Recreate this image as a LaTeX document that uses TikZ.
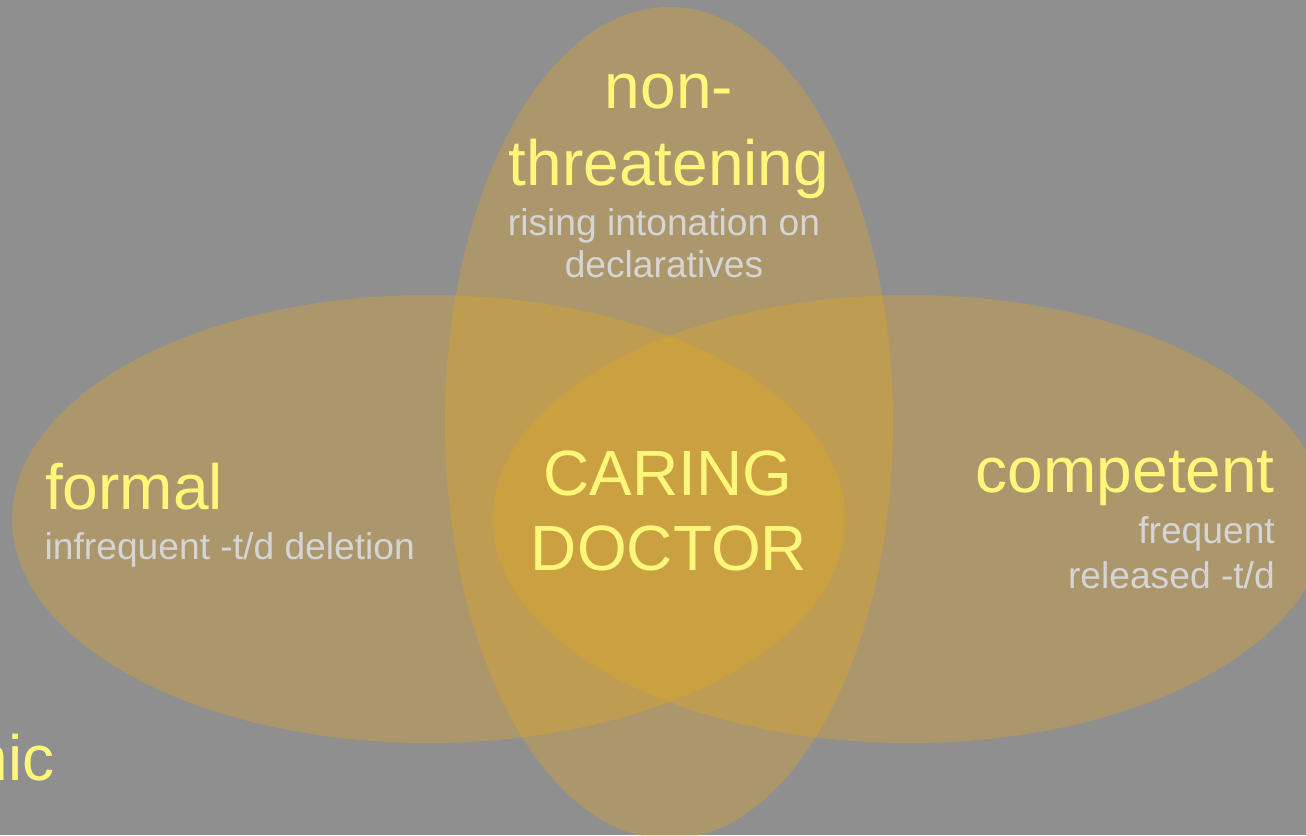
\documentclass[tikz,border=0pt]{standalone}
\usepackage{fontspec}
\setmainfont{Liberation Sans}
\definecolor{bggray}{RGB}{143,143,143}
\definecolor{blobfill}{RGB}{236,170,26}
\definecolor{titleyellow}{RGB}{255,247,122}
\definecolor{notegray}{RGB}{213,213,213}
\tikzset{
  blob/.style={fill=blobfill, fill opacity=0.3},
  bigtext/.style={text=titleyellow, inner sep=0pt, font=\fontsize{64}{75}\selectfont},
  smalltext/.style={text=notegray, inner sep=0pt, font=\fontsize{37.2}{42}\selectfont},
}
\begin{document}
\begin{tikzpicture}[x=1pt,y=-1pt]
\useasboundingbox (0,0) rectangle (1306,835);
\clip (0,0) rectangle (1306,835);
\fill[bggray] (0,0) rectangle (1306,835);
% ellipses
\fill[blob] (428.6,519) ellipse [x radius=416.6pt, y radius=224pt];
\fill[blob] (909.4,519) ellipse [x radius=416.6pt, y radius=224pt];
\fill[blob] (669,423) ellipse [x radius=224pt, y radius=416pt];
% top
\node[bigtext, anchor=base] (non) at (669,108) {non-};
\node[bigtext, anchor=base] (threat) at (669,185) {threatening};
\node[smalltext, anchor=base] (rising) at (664,235) {rising intonation on};
\node[smalltext, anchor=base] (decl) at (664,277) {declaratives};
% left
\node[bigtext, anchor=base west] (formal) at (45,509) {formal};
\node[smalltext, anchor=base west] (infreq) at (44.5,559) {infrequent -t/d deletion};
% center
\node[bigtext, anchor=base] (caring) at (668,495) {CARING};
\node[bigtext, anchor=base] (doctor) at (669,570) {DOCTOR};
% right
\node[bigtext, anchor=base east] (comp) at (1275,492) {competent};
\node[smalltext, anchor=base east] (freq) at (1275,543) {frequent};
\node[smalltext, anchor=base east] (rel) at (1275,588) {released -t/d};
% cut-off word at the left edge, as in the reference
\node[bigtext, anchor=base east] (nic) at (55,780) {nic};
\end{tikzpicture}
\end{document}
